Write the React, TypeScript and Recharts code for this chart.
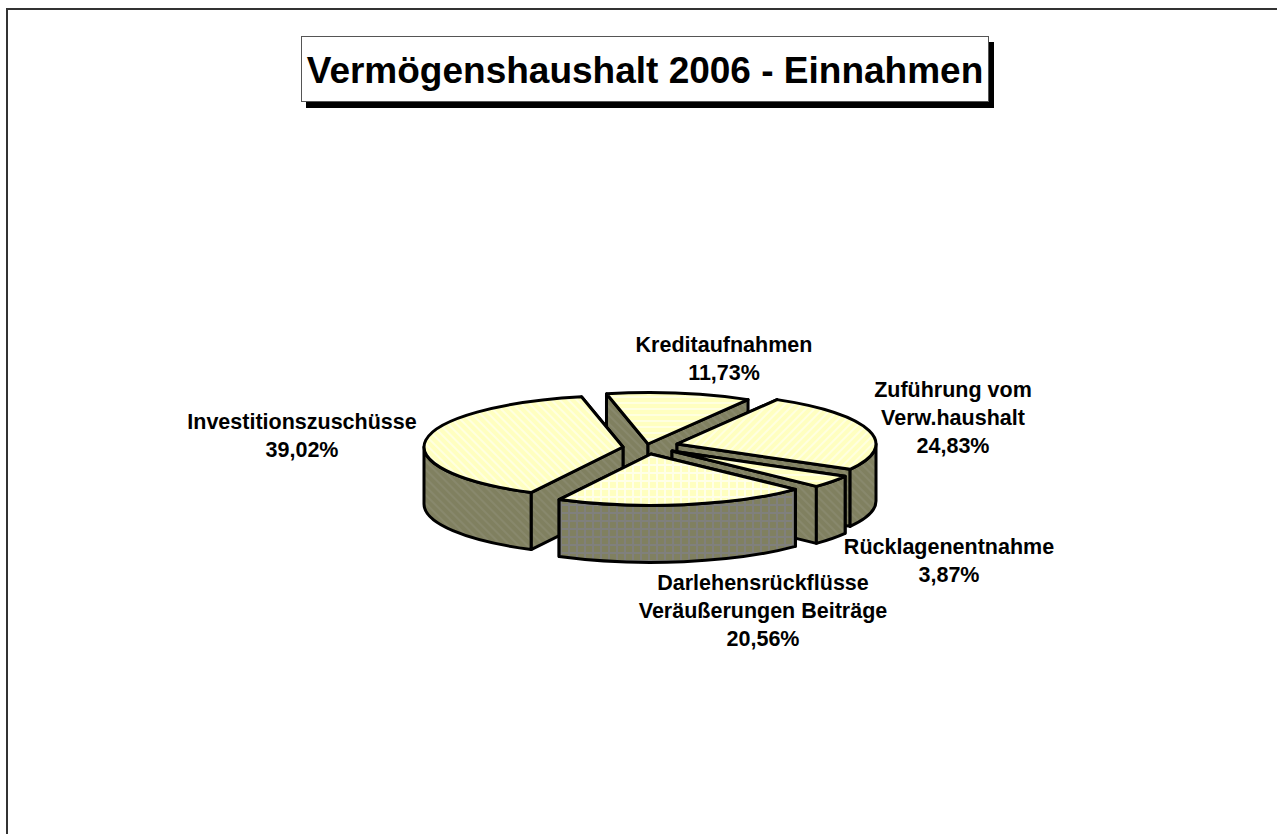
import { PieChart, Pie } from 'recharts';

const categories = ['Investitionszuschüsse', 'Kreditaufnahmen', 'Zuführung vom Verw.haushalt', 'Rücklagenentnahme', 'Darlehensrückflüsse Veräußerungen Beiträge'];
const shares = [39.02, 11.73, 24.83, 3.87, 20.56];
const shareLabels = ['39,02%', '11,73%', '24,83%', '3,87%', '20,56%'];

// how far each slice is pulled out of the pie, in px on screen
const explodeX = [-27, -2, 27, 22, 1];
const explodeY = [0, -3, -3, 4, 7];
const topFills = ['url(#topDown)', 'url(#topFlat)', 'url(#topUp)', 'url(#topFlat)', 'url(#topGrid)'];
const wallFills = ['url(#wallDown)', 'url(#wallDown)', 'url(#wallDown)', 'url(#wallDown)', 'url(#wallGrid)'];

// label text lines and anchor (centre x, first baseline y)
const labelLines = [
  ['Investitionszuschüsse'],
  ['Kreditaufnahmen'],
  ['Zuführung vom', 'Verw.haushalt'],
  ['Rücklagenentnahme'],
  ['Darlehensrückflüsse', 'Veräußerungen Beiträge'],
];
const labelX = [302, 724, 953, 949, 763];
const labelY = [429, 352, 397, 554, 590];

const chartData = categories.map((name, i) => ({ name, value: shares[i] }));

const backSlices = [1, 2];
const frontSlices = [0, 3, 4];

const FONT = '"Liberation Sans", Arial, sans-serif';
const SQUASH = 0.258;
const DEPTH = 57;
const RAD = Math.PI / 180;

function wedge(props: any, only: number[]) {
  const i = categories.indexOf(props.name);
  if (!only.includes(i)) return <g />;
  const { cx, cy, outerRadius: r, startAngle, endAngle } = props;
  const tx = cx + explodeX[i];
  const ty = cy + explodeY[i];
  const rx = r;
  const ry = r * SQUASH;
  const pt = (a: number) => [tx + rx * Math.cos(a * RAD), ty - ry * Math.sin(a * RAD)];

  const [sx, sy] = pt(startAngle);
  const [ex, ey] = pt(endAngle);
  const sweep = Math.abs(endAngle - startAngle) > 180 ? 1 : 0;
  const top = `M${tx},${ty} L${sx},${sy} A${rx},${ry} 0 ${sweep} 1 ${ex},${ey} Z`;
  const radial = (x: number, y: number) =>
    `M${tx},${ty} L${x},${y} L${x},${y + DEPTH} L${tx},${ty + DEPTH} Z`;
  // the radial wall further back goes first
  const radials = sy < ey ? [radial(sx, sy), radial(ex, ey)] : [radial(ex, ey), radial(sx, sy)];

  // outer wall only where the rim faces the viewer
  const hi = Math.max(startAngle, endAngle);
  const lo = Math.min(startAngle, endAngle);
  let rim = '';
  for (const k of [-1, 0, -2]) {
    const from = Math.max(lo, -180 + k * 360);
    const to = Math.min(hi, k * 360);
    if (to > from) {
      const [ax, ay] = pt(from);
      const [bx, by] = pt(to);
      rim = `M${ax},${ay} A${rx},${ry} 0 0 0 ${bx},${by} L${bx},${by + DEPTH} A${rx},${ry} 0 0 1 ${ax},${ay + DEPTH} Z`;
    }
  }

  const line = { stroke: '#000', strokeWidth: 3, strokeLinejoin: 'round' as const };
  return (
    <g>
      <path d={radials[0]} fill={wallFills[i]} {...line} />
      <path d={radials[1]} fill={wallFills[i]} {...line} />
      {rim && <path d={rim} fill={wallFills[i]} {...line} />}
      <path d={top} fill={topFills[i]} {...line} />
    </g>
  );
}

const backShape = (props: any) => wedge(props, backSlices);
const frontShape = (props: any) => wedge(props, frontSlices);

function sliceLabel(props: any) {
  const i = categories.indexOf(props.name);
  const x = labelX[i];
  return (
    <text x={x} y={labelY[i]} textAnchor="middle" fontFamily={FONT} fontWeight="bold" fontSize={21.5} fill="#000">
      {labelLines[i].map((t) => (
        <tspan key={t} x={x} dy={t === labelLines[i][0] ? 0 : 28}>{t}</tspan>
      ))}
      <tspan x={x} dy={28}>{shareLabels[i]}</tspan>
    </text>
  );
}

function Stripes({ id, bg, fg, angle }: { id: string; bg: string; fg: string; angle: number }) {
  return (
    <pattern id={id} width={6} height={6} patternUnits="userSpaceOnUse" patternTransform={`rotate(${angle})`}>
      <rect width={6} height={6} fill={bg} />
      <rect width={6} height={2} fill={fg} />
    </pattern>
  );
}

export default function App() {
  return (
    <div style={{ position: 'absolute', left: 0, top: 0, width: 1277, height: 834, overflow: 'hidden', background: '#fff' }}>
      <div style={{ position: 'absolute', left: 6, top: 8, right: 0, bottom: 0, borderTop: '2px solid #333', borderLeft: '2px solid #333' }} />
      <div style={{ position: 'absolute', left: 301, top: 36, width: 688, height: 66, boxSizing: 'border-box', background: '#fff', border: '1px solid #555', boxShadow: '5px 6px 0 #000', textAlign: 'center', fontFamily: FONT, fontWeight: 'bold', fontSize: 37, lineHeight: '67px', color: '#000', whiteSpace: 'nowrap' }}>
        Vermögenshaushalt 2006 - Einnahmen
      </div>
      <div style={{ position: 'absolute', left: 0, top: 0 }}>
        <PieChart width={1277} height={834} margin={{ top: 0, right: 0, bottom: 0, left: 0 }}>
          <defs>
            <Stripes id="topDown" bg="#ffffc0" fg="#ffffe0" angle={45} />
            <Stripes id="topUp" bg="#ffffc0" fg="#ffffe0" angle={-45} />
            <Stripes id="topFlat" bg="#ffffc0" fg="#ffffe0" angle={0} />
            <pattern id="topGrid" width={8} height={8} patternUnits="userSpaceOnUse">
              <rect width={8} height={8} fill="#ffffc0" />
              <rect width={2} height={8} fill="#ffffe8" />
              <rect width={8} height={2} fill="#ffffe8" />
            </pattern>
            <Stripes id="wallDown" bg="#808060" fg="#88886c" angle={45} />
            <pattern id="wallGrid" width={8} height={8} patternUnits="userSpaceOnUse">
              <rect width={8} height={8} fill="#808060" />
              <rect width={2} height={8} fill="#80807c" />
              <rect width={8} height={2} fill="#80807c" />
            </pattern>
          </defs>
          <Pie
            data={chartData}
            dataKey="value"
            nameKey="name"
            cx={650}
            cy={447}
            outerRadius={199}
            startAngle={-117.5}
            endAngle={-477.5}
            stroke="none"
            labelLine={false}
            legendType="none"
            shape={backShape}
            inactiveShape={backShape}
            activeShape={backShape}
            isAnimationActive={false}
          />
          <Pie
            data={chartData}
            dataKey="value"
            nameKey="name"
            cx={650}
            cy={447}
            outerRadius={199}
            startAngle={-117.5}
            endAngle={-477.5}
            stroke="none"
            labelLine={false}
            label={sliceLabel}
            legendType="none"
            shape={frontShape}
            inactiveShape={frontShape}
            activeShape={frontShape}
            isAnimationActive={false}
          />
        </PieChart>
      </div>
    </div>
  );
}
